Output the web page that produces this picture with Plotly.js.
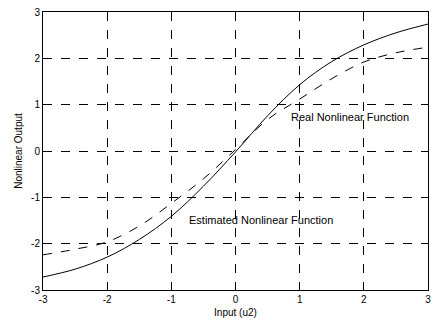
<!DOCTYPE html>
<html><head><meta charset="utf-8">
<script src="https://cdn.plot.ly/plotly-3.0.1.min.js"></script>
<style>html,body{margin:0;padding:0;background:#fff}#c{width:433px;height:320px}</style>
</head><body><div id="c"></div>
<script>
const xVals = [-3,-2.5,-2,-1.5,-1,-0.5,0,0.5,1,1.5,2,2.5,3];
const realVals = [-2.72,-2.55,-2.29,-1.91,-1.41,-0.76,-0.02,0.76,1.43,1.93,2.29,2.55,2.74];
const estVals = [-2.24,-2.12,-1.96,-1.62,-1.13,-0.6,0.03,0.68,1.12,1.56,1.92,2.12,2.24];
const tickVals = [-3,-2,-1,0,1,2,3];
const tickText = ['-3','-2','-1','0','1','2','3'];
const labels = ['Real Nonlinear Function','Estimated Nonlinear Function'];

const font = {family:'Liberation Sans, Arial, sans-serif', color:'#000'};
const data = [
  {x:xVals, y:realVals, mode:'lines', line:{color:'#000', width:1, shape:'spline'}, name:labels[0]},
  {x:xVals, y:estVals, mode:'lines', line:{color:'#000', width:1, dash:'dash', shape:'spline'}, name:labels[1]}
];
const axisBase = {
  range:[-3,3], tickvals:tickVals, ticktext:tickText,
  showline:true, mirror:true, linecolor:'#000', linewidth:1,
  ticks:'inside', ticklen:4, tickcolor:'#000',
  showgrid:true, gridcolor:'#000', gridwidth:1, griddash:'dash',
  zeroline:false, tickfont:{...font, size:10}
};
const layout = {
  width:433, height:320,
  margin:{l:43, r:5, t:12, b:30},
  paper_bgcolor:'#fff', plot_bgcolor:'#fff',
  showlegend:false,
  font:font,
  xaxis:{...axisBase, title:{text:'Input (u2)', font:{...font, size:10}, standoff:4}},
  yaxis:{...axisBase, title:{text:'Nonlinear Output', font:{...font, size:10}, standoff:6}},
  annotations:[
    {x:1.78, y:0.73, text:labels[0], showarrow:false, font:{...font, size:11}},
    {x:0.4, y:-1.49, text:labels[1], showarrow:false, font:{...font, size:11}}
  ]
};
Plotly.newPlot('c', data, layout, {displayModeBar:false, staticPlot:true});
</script></body></html>
